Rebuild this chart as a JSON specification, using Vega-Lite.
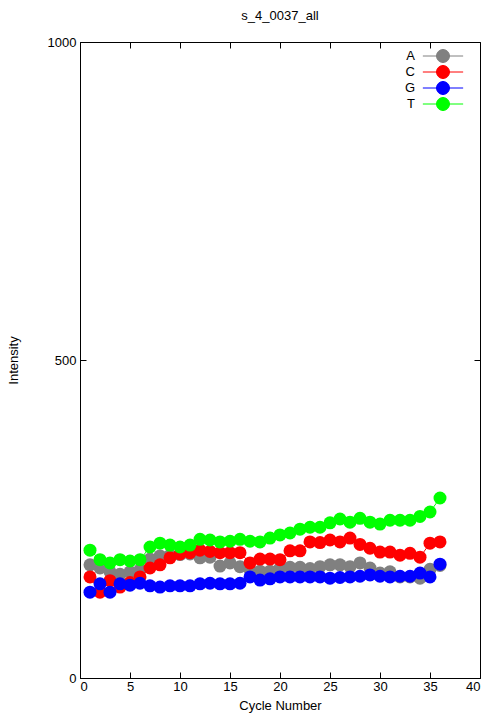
{
  "$schema": "https://vega.github.io/schema/vega-lite/v6.json",
  "width": 400,
  "height": 636,
  "autosize": {"type": "none"},
  "padding": {"left": 80, "top": 42, "right": 24, "bottom": 42},
  "background": "white",
  "title": {"text": "s_4_0037_all", "font": "Liberation Sans", "fontSize": 13, "fontWeight": "normal", "color": "black", "offset": 13, "anchor": "middle"},
  "config": {
    "view": {"stroke": "black", "strokeWidth": 1},
    "font": "Liberation Sans",
    "axis": {
      "grid": false,
      "domainColor": "black",
      "tickColor": "black",
      "labelColor": "black",
      "titleColor": "black",
      "labelFont": "Liberation Sans",
      "titleFont": "Liberation Sans",
      "labelFontSize": 13,
      "titleFontSize": 13,
      "titleFontWeight": "normal",
      "tickSize": -6
    }
  },
  "data": {
    "values": [
      {"cycle": 1, "base": "A", "v": 178}, {"cycle": 2, "base": "A", "v": 173}, {"cycle": 3, "base": "A", "v": 167}, {"cycle": 4, "base": "A", "v": 163}, {"cycle": 5, "base": "A", "v": 167}, {"cycle": 6, "base": "A", "v": 170}, {"cycle": 7, "base": "A", "v": 187}, {"cycle": 8, "base": "A", "v": 192}, {"cycle": 9, "base": "A", "v": 193}, {"cycle": 10, "base": "A", "v": 194}, {"cycle": 11, "base": "A", "v": 195}, {"cycle": 12, "base": "A", "v": 189}, {"cycle": 13, "base": "A", "v": 190}, {"cycle": 14, "base": "A", "v": 176}, {"cycle": 15, "base": "A", "v": 181}, {"cycle": 16, "base": "A", "v": 175}, {"cycle": 17, "base": "A", "v": 170}, {"cycle": 18, "base": "A", "v": 168}, {"cycle": 19, "base": "A", "v": 168}, {"cycle": 20, "base": "A", "v": 173}, {"cycle": 21, "base": "A", "v": 174}, {"cycle": 22, "base": "A", "v": 174}, {"cycle": 23, "base": "A", "v": 172}, {"cycle": 24, "base": "A", "v": 175}, {"cycle": 25, "base": "A", "v": 178}, {"cycle": 26, "base": "A", "v": 178}, {"cycle": 27, "base": "A", "v": 175}, {"cycle": 28, "base": "A", "v": 181}, {"cycle": 29, "base": "A", "v": 173}, {"cycle": 30, "base": "A", "v": 165}, {"cycle": 31, "base": "A", "v": 167}, {"cycle": 32, "base": "A", "v": 159}, {"cycle": 33, "base": "A", "v": 159}, {"cycle": 34, "base": "A", "v": 157}, {"cycle": 35, "base": "A", "v": 171}, {"cycle": 36, "base": "A", "v": 177},
      {"cycle": 1, "base": "C", "v": 159}, {"cycle": 2, "base": "C", "v": 135}, {"cycle": 3, "base": "C", "v": 153}, {"cycle": 4, "base": "C", "v": 143}, {"cycle": 5, "base": "C", "v": 150}, {"cycle": 6, "base": "C", "v": 159}, {"cycle": 7, "base": "C", "v": 173}, {"cycle": 8, "base": "C", "v": 178}, {"cycle": 9, "base": "C", "v": 189}, {"cycle": 10, "base": "C", "v": 195}, {"cycle": 11, "base": "C", "v": 197}, {"cycle": 12, "base": "C", "v": 201}, {"cycle": 13, "base": "C", "v": 199}, {"cycle": 14, "base": "C", "v": 197}, {"cycle": 15, "base": "C", "v": 197}, {"cycle": 16, "base": "C", "v": 197}, {"cycle": 17, "base": "C", "v": 181}, {"cycle": 18, "base": "C", "v": 187}, {"cycle": 19, "base": "C", "v": 187}, {"cycle": 20, "base": "C", "v": 186}, {"cycle": 21, "base": "C", "v": 200}, {"cycle": 22, "base": "C", "v": 200}, {"cycle": 23, "base": "C", "v": 214}, {"cycle": 24, "base": "C", "v": 213}, {"cycle": 25, "base": "C", "v": 217}, {"cycle": 26, "base": "C", "v": 214}, {"cycle": 27, "base": "C", "v": 220}, {"cycle": 28, "base": "C", "v": 210}, {"cycle": 29, "base": "C", "v": 204}, {"cycle": 30, "base": "C", "v": 198}, {"cycle": 31, "base": "C", "v": 198}, {"cycle": 32, "base": "C", "v": 193}, {"cycle": 33, "base": "C", "v": 196}, {"cycle": 34, "base": "C", "v": 190}, {"cycle": 35, "base": "C", "v": 212}, {"cycle": 36, "base": "C", "v": 214},
      {"cycle": 1, "base": "G", "v": 135}, {"cycle": 2, "base": "G", "v": 148}, {"cycle": 3, "base": "G", "v": 135}, {"cycle": 4, "base": "G", "v": 148}, {"cycle": 5, "base": "G", "v": 146}, {"cycle": 6, "base": "G", "v": 149}, {"cycle": 7, "base": "G", "v": 145}, {"cycle": 8, "base": "G", "v": 143}, {"cycle": 9, "base": "G", "v": 145}, {"cycle": 10, "base": "G", "v": 145}, {"cycle": 11, "base": "G", "v": 145}, {"cycle": 12, "base": "G", "v": 148}, {"cycle": 13, "base": "G", "v": 149}, {"cycle": 14, "base": "G", "v": 148}, {"cycle": 15, "base": "G", "v": 148}, {"cycle": 16, "base": "G", "v": 149}, {"cycle": 17, "base": "G", "v": 159}, {"cycle": 18, "base": "G", "v": 154}, {"cycle": 19, "base": "G", "v": 156}, {"cycle": 20, "base": "G", "v": 159}, {"cycle": 21, "base": "G", "v": 159}, {"cycle": 22, "base": "G", "v": 159}, {"cycle": 23, "base": "G", "v": 159}, {"cycle": 24, "base": "G", "v": 159}, {"cycle": 25, "base": "G", "v": 157}, {"cycle": 26, "base": "G", "v": 158}, {"cycle": 27, "base": "G", "v": 159}, {"cycle": 28, "base": "G", "v": 160}, {"cycle": 29, "base": "G", "v": 162}, {"cycle": 30, "base": "G", "v": 160}, {"cycle": 31, "base": "G", "v": 159}, {"cycle": 32, "base": "G", "v": 160}, {"cycle": 33, "base": "G", "v": 160}, {"cycle": 34, "base": "G", "v": 165}, {"cycle": 35, "base": "G", "v": 159}, {"cycle": 36, "base": "G", "v": 179},
      {"cycle": 1, "base": "T", "v": 201}, {"cycle": 2, "base": "T", "v": 186}, {"cycle": 3, "base": "T", "v": 181}, {"cycle": 4, "base": "T", "v": 186}, {"cycle": 5, "base": "T", "v": 184}, {"cycle": 6, "base": "T", "v": 186}, {"cycle": 7, "base": "T", "v": 206}, {"cycle": 8, "base": "T", "v": 212}, {"cycle": 9, "base": "T", "v": 209}, {"cycle": 10, "base": "T", "v": 206}, {"cycle": 11, "base": "T", "v": 209}, {"cycle": 12, "base": "T", "v": 218}, {"cycle": 13, "base": "T", "v": 217}, {"cycle": 14, "base": "T", "v": 214}, {"cycle": 15, "base": "T", "v": 215}, {"cycle": 16, "base": "T", "v": 218}, {"cycle": 17, "base": "T", "v": 215}, {"cycle": 18, "base": "T", "v": 214}, {"cycle": 19, "base": "T", "v": 220}, {"cycle": 20, "base": "T", "v": 225}, {"cycle": 21, "base": "T", "v": 228}, {"cycle": 22, "base": "T", "v": 234}, {"cycle": 23, "base": "T", "v": 237}, {"cycle": 24, "base": "T", "v": 237}, {"cycle": 25, "base": "T", "v": 244}, {"cycle": 26, "base": "T", "v": 250}, {"cycle": 27, "base": "T", "v": 245}, {"cycle": 28, "base": "T", "v": 251}, {"cycle": 29, "base": "T", "v": 245}, {"cycle": 30, "base": "T", "v": 242}, {"cycle": 31, "base": "T", "v": 248}, {"cycle": 32, "base": "T", "v": 248}, {"cycle": 33, "base": "T", "v": 248}, {"cycle": 34, "base": "T", "v": 254}, {"cycle": 35, "base": "T", "v": 261}, {"cycle": 36, "base": "T", "v": 283}
    ]
  },
  "layer": [
    {
      "mark": {"type": "line", "strokeWidth": 1},
      "encoding": {
        "x": {"field": "cycle", "type": "quantitative", "scale": {"domain": [0, 40], "nice": false}, "axis": {"orient": "bottom", "values": [0, 5, 10, 15, 20, 25, 30, 35, 40], "format": "d", "title": "Cycle Number", "labelPadding": 8, "titlePadding": 6}},
        "y": {"field": "v", "type": "quantitative", "scale": {"domain": [0, 1000], "nice": false}, "axis": {"orient": "left", "values": [0, 500, 1000], "format": "d", "title": "Intensity", "labelPadding": 10, "titlePadding": 27}},
        "color": {"field": "base", "type": "nominal", "scale": {"domain": ["A", "C", "G", "T"], "range": ["#808080", "#ff0000", "#0000ff", "#00ff00"]}, "legend": {"title": null, "orient": "none", "legendX": 356, "legendY": 7, "padding": 0, "symbolType": "M-3.1,0L3.1,0M1,0A1,1,0,1,1,-1,0A1,1,0,1,1,1,0Z", "symbolSize": 169, "symbolStrokeWidth": 1, "labelAlign": "right", "labelOffset": -35, "labelFontSize": 13, "labelFont": "Liberation Sans", "labelColor": "black", "rowPadding": -5, "encode": {"symbols": {"update": {"fill": {"scale": "color", "field": "value"}, "stroke": {"scale": "color", "field": "value"}, "opacity": {"value": 1}}}}}}
      }
    },
    {
      "mark": {"type": "point", "filled": true, "size": 169, "opacity": 1},
      "encoding": {
        "x": {"field": "cycle", "type": "quantitative", "axis": {"orient": "top", "values": [0, 5, 10, 15, 20, 25, 30, 35, 40], "labels": false, "title": null, "domain": false}},
        "y": {"field": "v", "type": "quantitative", "axis": {"orient": "right", "values": [0, 500, 1000], "labels": false, "title": null, "domain": false}},
        "color": {"field": "base", "type": "nominal"}
      }
    }
  ],
  "resolve": {"axis": {"x": "independent", "y": "independent"}}
}
